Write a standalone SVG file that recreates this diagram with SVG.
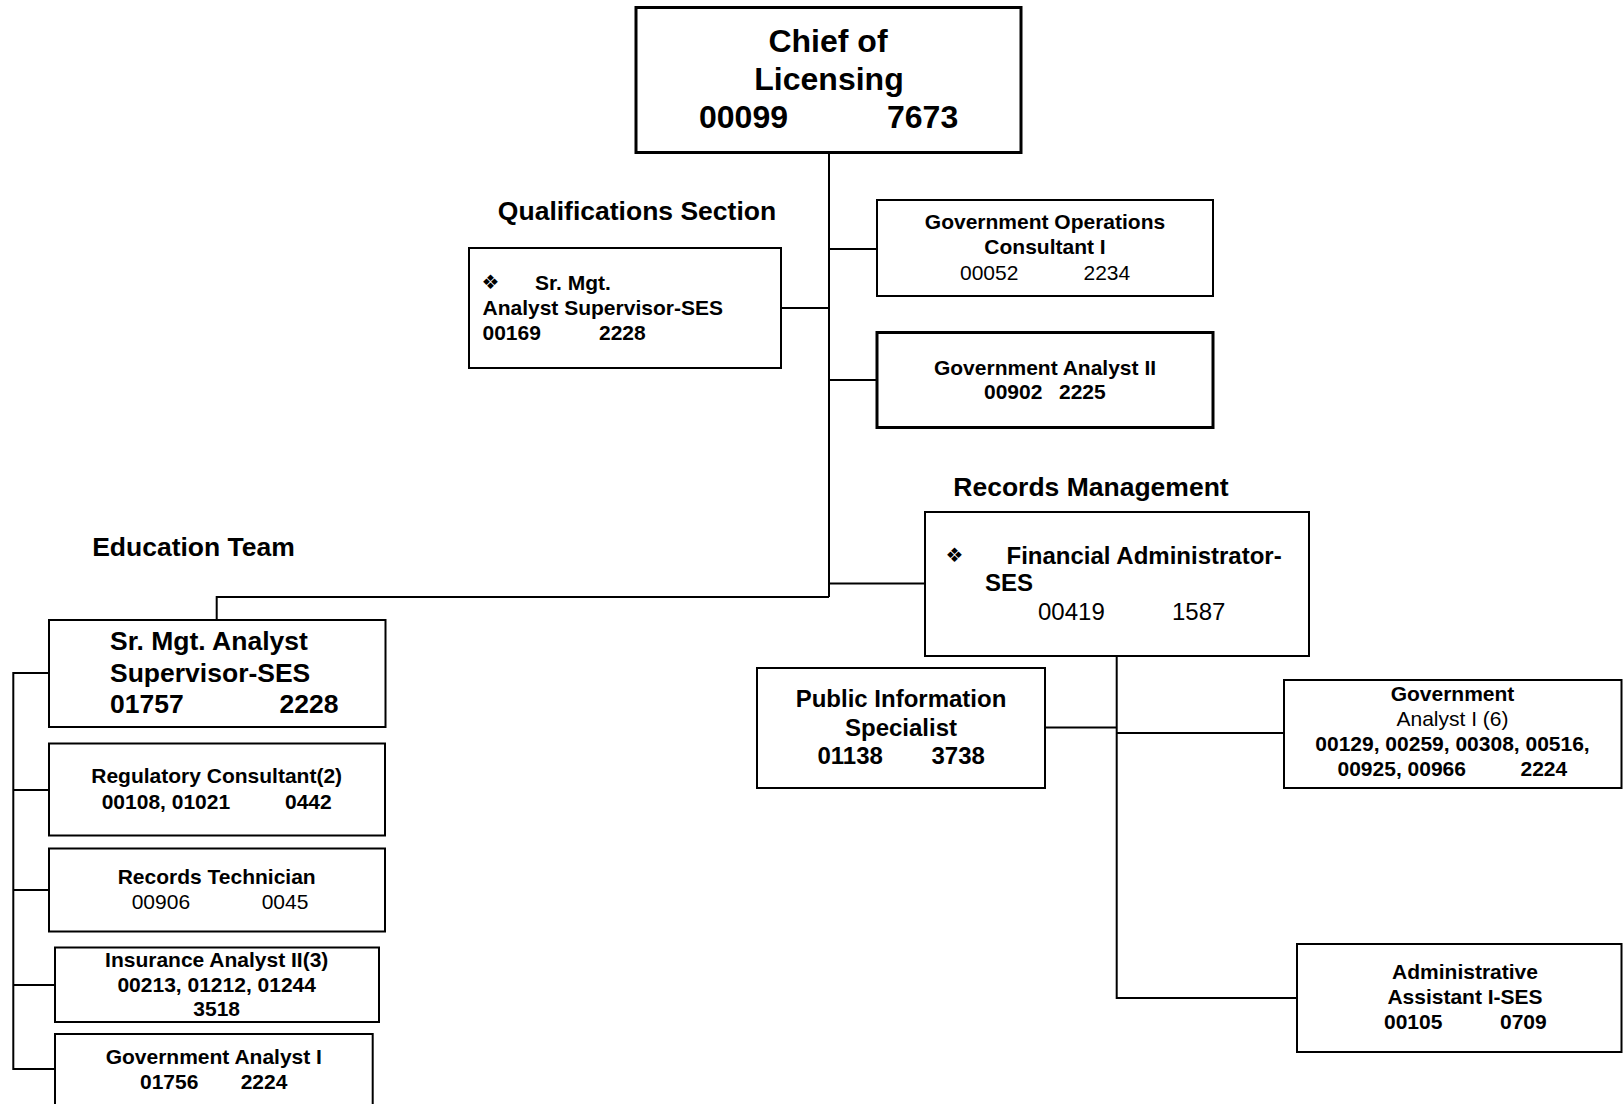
<svg xmlns="http://www.w3.org/2000/svg" width="1623" height="1104" viewBox="0 0 1623 1104">
<style>
text{font-family:"Liberation Sans",Arial,Helvetica,sans-serif;fill:#000}
.b{font-weight:bold}
.c{text-anchor:middle}
.box{fill:#fff;stroke:#000;stroke-width:2}
.thick{stroke-width:3}
.f21{font-size:21px}
.f24{font-size:24px}
.f26{font-size:26.5px}
.f32{font-size:32px}
.bul{font-family:"DejaVu Sans",sans-serif;font-size:20px}
#connectors path{fill:none;stroke:#000;stroke-width:2}
</style>
<rect width="1623" height="1104" fill="#fff"/>
<g id="connectors">
<path d="M829,153V597"/>
<path d="M781,308H829"/>
<path d="M829,249H877"/>
<path d="M829,380H877"/>
<path d="M829,583.5H925"/>
<path d="M829,597H216.7V620"/>
<path d="M49,673H13.3V1069H55"/>
<path d="M13.3,790H49"/>
<path d="M13.3,890H49"/>
<path d="M13.3,985H55"/>
<path d="M1116.7,656V998H1297"/>
<path d="M1045,727.5H1116.7"/>
<path d="M1116.7,733H1284"/>
</g>
<g id="labels">
<text class="b f26 c" x="637" y="220">Qualifications Section</text>
<text class="b f26 c" x="1091" y="496">Records Management</text>
<text class="b f26 c" x="193.5" y="556">Education Team</text>
</g>
<g id="chief">
<rect class="box thick" x="636" y="7.5" width="385" height="145"/>
<text class="b f32 c" x="828" y="52">Chief of</text>
<text class="b f32 c" x="829" y="90">Licensing</text>
<text class="b f32" x="699" y="128">00099</text>
<text class="b f32" x="887" y="128">7673</text>
</g>
<g id="qual">
<rect class="box" x="469" y="248" width="312" height="120"/>
<text class="bul" x="481.5" y="289">❖</text>
<text class="b f21" x="535" y="290">Sr. Mgt.</text>
<text class="b f21" x="482.5" y="315">Analyst Supervisor-SES</text>
<text class="b f21" x="482.5" y="340">00169</text>
<text class="b f21" x="599" y="340">2228</text>
</g>
<g id="govops">
<rect class="box" x="877" y="200" width="336" height="96"/>
<text class="b f21 c" x="1045" y="229">Government Operations</text>
<text class="b f21 c" x="1045" y="254">Consultant I</text>
<text class="f21" x="960" y="280">00052</text>
<text class="f21" x="1083.5" y="280">2234</text>
</g>
<g id="govanalyst2">
<rect class="box thick" x="877" y="332.5" width="336" height="95"/>
<text class="b f21 c" x="1045" y="375">Government Analyst II</text>
<text class="b f21" x="984" y="399">00902</text>
<text class="b f21" x="1059" y="399">2225</text>
</g>
<g id="finadmin">
<rect class="box" x="925" y="512" width="384" height="144"/>
<text class="bul" x="945.5" y="562">❖</text>
<text class="b f24" x="1006.5" y="563.5">Financial Administrator-</text>
<text class="b f24" x="985" y="591">SES</text>
<text class="f24" x="1038" y="619.5">00419</text>
<text class="f24" x="1172" y="619.5">1587</text>
</g>
<g id="pubinfo">
<rect class="box" x="757" y="668" width="288" height="120"/>
<text class="b f24 c" x="901" y="707">Public Information</text>
<text class="b f24 c" x="901" y="735.5">Specialist</text>
<text class="b f24" x="817.5" y="764">01138</text>
<text class="b f24" x="931.5" y="764">3738</text>
</g>
<g id="govanalyst1-6">
<rect class="box" x="1284" y="680" width="337.5" height="108"/>
<text class="b f21 c" x="1452.5" y="701">Government</text>
<text class="f21 c" x="1452.5" y="726">Analyst I (6)</text>
<text class="b f21 c" x="1452.5" y="751">00129, 00259, 00308, 00516,</text>
<text class="b f21" x="1337.5" y="776">00925, 00966</text>
<text class="b f21" x="1520.5" y="776">2224</text>
</g>
<g id="adminasst">
<rect class="box" x="1297" y="944" width="324.5" height="108"/>
<text class="b f21 c" x="1465" y="979">Administrative</text>
<text class="b f21 c" x="1465" y="1004">Assistant I-SES</text>
<text class="b f21" x="1384" y="1029">00105</text>
<text class="b f21" x="1500" y="1029">0709</text>
</g>
<g id="edusup">
<rect class="box" x="49" y="620" width="336.5" height="107"/>
<text class="b f26" x="110" y="650">Sr. Mgt. Analyst</text>
<text class="b f26" x="110" y="681.5">Supervisor-SES</text>
<text class="b f26" x="110" y="713">01757</text>
<text class="b f26" x="279.5" y="713">2228</text>
</g>
<g id="regcons">
<rect class="box" x="49" y="743.5" width="336" height="92"/>
<text class="b f21 c" x="216.7" y="782.5">Regulatory Consultant(2)</text>
<text class="b f21" x="101.7" y="808.5">00108, 01021</text>
<text class="b f21" x="285" y="808.5">0442</text>
</g>
<g id="rectech">
<rect class="box" x="49" y="848.5" width="336" height="83"/>
<text class="b f21 c" x="216.7" y="884">Records Technician</text>
<text class="f21" x="131.7" y="909">00906</text>
<text class="f21" x="261.7" y="909">0045</text>
</g>
<g id="insanalyst">
<rect class="box" x="55" y="947.5" width="324" height="74.5"/>
<text class="b f21 c" x="216.7" y="967">Insurance Analyst II(3)</text>
<text class="b f21 c" x="216.7" y="991.5">00213, 01212, 01244</text>
<text class="b f21 c" x="216.7" y="1016">3518</text>
</g>
<g id="govanalyst1">
<rect class="box" x="55" y="1034" width="317.7" height="90"/>
<text class="b f21 c" x="213.8" y="1064">Government Analyst I</text>
<text class="b f21" x="140" y="1089">01756</text>
<text class="b f21" x="240.7" y="1089">2224</text>
</g>
</svg>
